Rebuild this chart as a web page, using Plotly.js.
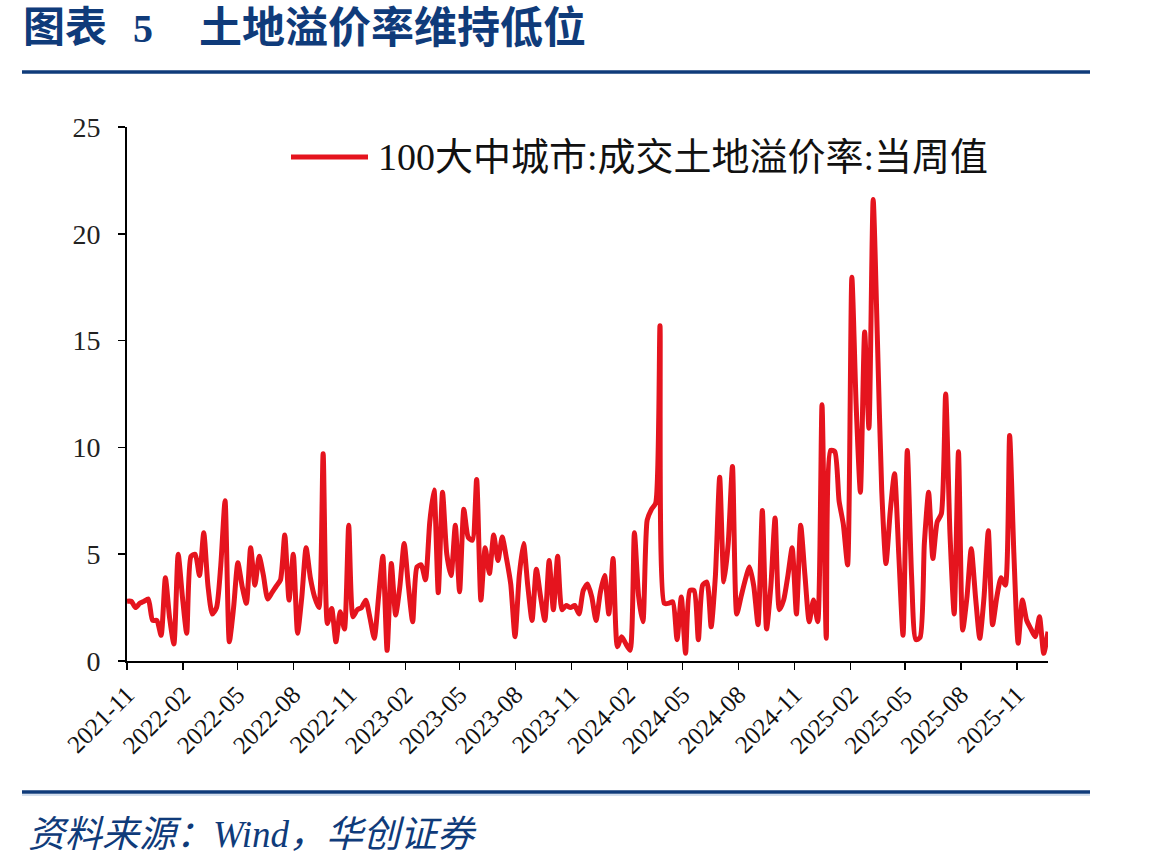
<!DOCTYPE html>
<html>
<head>
<meta charset="utf-8">
<script src="https://cdn.plot.ly/plotly-3.0.1.min.js"></script>
<style>
  html, body { margin: 0; padding: 0; background: #fff; }
  #chart { width: 1149px; height: 868px; }
</style>
</head>
<body>
<div id="chart"></div>
<script>
// ---- data ----
const START_DATE = '2021-11-05';   // first weekly observation
const END_DATE = '2025-12-26';     // last weekly observation
const SERIES_NAME = '100大中城市:成交土地溢价率:当周值';
const TITLE_LABEL = '图表';
const TITLE_NUMBER = '5';
const TITLE_TEXT = '土地溢价率维持低位';
const SOURCE_TEXT = '资料来源：Wind，华创证券';
const Y_TICKS = [0, 5, 10, 15, 20, 25];

// weekly premium rate values (%)
const premiumRate = [
  2.8, 2.8, 2.5, 2.7, 2.8, 2.9, 1.9, 1.9, 1.2, 3.9,
  2.0, 0.8, 5.0, 3.0, 1.3, 4.9, 5.0, 4.0, 6.0, 3.5,
  2.2, 2.5, 4.5, 7.5, 0.9, 2.5, 4.6, 3.5, 2.7, 5.3,
  3.55, 4.9, 4.0, 2.9, 3.2, 3.5, 3.8, 5.9, 2.85, 5.0,
  1.3, 3.0, 5.3, 3.9, 3.0, 2.5, 9.7, 1.76, 2.46, 0.9,
  2.3, 1.5, 6.35, 2.07, 2.4, 2.5, 2.85, 2.0, 1.06, 3.0,
  4.9, 0.5, 4.56, 2.15, 3.5, 5.5, 3.5, 1.84, 4.4, 4.5,
  3.8, 6.5, 8.0, 3.2, 7.9, 5.0, 4.0, 6.35, 3.24, 7.1,
  5.8, 5.65, 8.5, 2.85, 5.3, 4.1, 5.9, 4.7, 5.8, 4.8,
  3.6, 1.14, 4.0, 5.5, 3.5, 1.9, 4.3, 3.0, 1.9, 4.7,
  2.4, 4.9, 2.4, 2.6, 2.5, 2.6, 2.2, 3.3, 3.6, 3.0,
  1.9, 3.2, 4.0, 2.2, 4.8, 0.67, 1.14, 0.8, 0.5, 6.0,
  3.0, 1.84, 6.6, 7.1, 7.4, 15.7, 2.7, 2.7, 2.77, 1.0,
  3.0, 0.36, 3.3, 3.3, 1.0, 3.55, 3.7, 1.6, 4.0, 8.6,
  3.7, 5.5, 9.1, 2.2, 3.0, 3.8, 4.4, 3.5, 1.7, 7.05,
  1.5, 3.5, 6.7, 2.4, 2.85, 4.0, 5.3, 2.2, 6.35, 4.0,
  1.84, 2.85, 1.84, 12.0, 1.06, 9.86, 9.8, 7.5, 6.4, 4.5,
  17.96, 12.0, 7.9, 15.4, 10.9, 21.6, 15.0, 8.0, 4.56, 7.0,
  8.77, 5.0, 1.2, 9.86, 4.0, 1.0, 1.1, 5.5, 7.9, 4.8,
  6.5, 6.9, 12.5, 6.0, 2.2, 9.8, 1.45, 3.0, 5.26, 3.0,
  1.06, 3.0, 6.1, 1.7, 3.0, 3.9, 3.55, 10.56, 5.0, 0.83,
  2.85, 1.9, 1.5, 1.14, 2.07, 0.36, 1.37
];

// weekly dates (one per observation)
const weekDates = premiumRate.map((_, i) => {
  const d = new Date(START_DATE + 'T00:00:00Z');
  d.setUTCDate(d.getUTCDate() + 7 * i);
  return d.toISOString().slice(0, 10);
});

// ---- layout geometry (pixels) ----
const W = 1149, H = 868;
const M = { l: 127, r: 101, t: 127, b: 207 };
const PW = W - M.l - M.r, PH = H - M.t - M.b;
const px = x => (x - M.l) / PW;
const py = y => (H - M.b - y) / PH;

const NAVY = '#0f3b7a';
const RED = '#e5141e';
const SERIF = '"Liberation Serif", "Times New Roman", "Noto Sans CJK SC", serif';
const CJK = '"Liberation Serif", "Noto Sans CJK SC", serif';

const trace = {
  type: 'scatter',
  mode: 'lines',
  x: weekDates,
  y: premiumRate,
  name: SERIES_NAME,
  line: { color: RED, width: 5, shape: 'spline', smoothing: 0.6 },
  showlegend: false,
  hoverinfo: 'x+y'
};

const layout = {
  width: W, height: H,
  margin: M,
  paper_bgcolor: '#fff',
  plot_bgcolor: '#fff',
  showlegend: false,
  xaxis: {
    type: 'date',
    range: [START_DATE, END_DATE],
    tick0: START_DATE,
    dtick: 'M3',
    tickformat: '%Y-%m',
    tickangle: -45,
    ticks: 'outside', ticklen: 7, tickwidth: 1.5, tickcolor: '#000',
    showline: true, linecolor: '#000', linewidth: 2,
    showgrid: false, zeroline: false,
    tickfont: { family: SERIF, size: 25, color: '#111' }
  },
  yaxis: {
    range: [0, 25],
    tickvals: Y_TICKS,
    ticks: 'outside', ticklen: 7, tickwidth: 1.5, tickcolor: '#000',
    showline: true, linecolor: '#000', linewidth: 2,
    showgrid: false, zeroline: false,
    ticklabelstandoff: 12,
    tickfont: { family: SERIF, size: 28, color: '#222' }
  },
  shapes: [
    { type: 'line', xref: 'paper', yref: 'paper', x0: px(22), x1: px(1090), y0: py(72), y1: py(72),
      line: { color: NAVY, width: 3.5 } },
    { type: 'line', xref: 'paper', yref: 'paper', x0: px(22), x1: px(1090), y0: py(792), y1: py(792),
      line: { color: NAVY, width: 3.5 } },
    { type: 'line', xref: 'paper', yref: 'paper', x0: px(22), x1: px(1090), y0: py(795), y1: py(795),
      line: { color: '#a9bfdc', width: 1 } },
    { type: 'line', xref: 'paper', yref: 'paper', x0: px(291), x1: px(368), y0: py(157), y1: py(157),
      line: { color: RED, width: 5 } }
  ],
  annotations: [
    { text: TITLE_LABEL, xref: 'paper', yref: 'paper', x: px(21), y: py(28),
      xanchor: 'left', yanchor: 'middle', showarrow: false,
      font: { family: CJK, size: 42, color: NAVY, weight: 'bold' } },
    { text: TITLE_NUMBER, xref: 'paper', yref: 'paper', x: px(131), y: py(28),
      xanchor: 'left', yanchor: 'middle', showarrow: false,
      font: { family: CJK, size: 40, color: NAVY, weight: 'bold' } },
    { text: TITLE_TEXT, xref: 'paper', yref: 'paper', x: px(197), y: py(28),
      xanchor: 'left', yanchor: 'middle', showarrow: false,
      font: { family: CJK, size: 43, color: NAVY, weight: 'bold' } },
    { text: SERIES_NAME, xref: 'paper', yref: 'paper', x: px(376), y: py(157),
      xanchor: 'left', yanchor: 'middle', showarrow: false,
      font: { family: CJK, size: 38, color: '#111' } },
    { text: SOURCE_TEXT, xref: 'paper', yref: 'paper', x: px(26), y: py(834),
      xanchor: 'left', yanchor: 'middle', showarrow: false,
      font: { family: CJK, size: 37, color: NAVY, style: 'italic' } }
  ]
};

Plotly.newPlot('chart', [trace], layout, { displayModeBar: false, staticPlot: true });
</script>
</body>
</html>
